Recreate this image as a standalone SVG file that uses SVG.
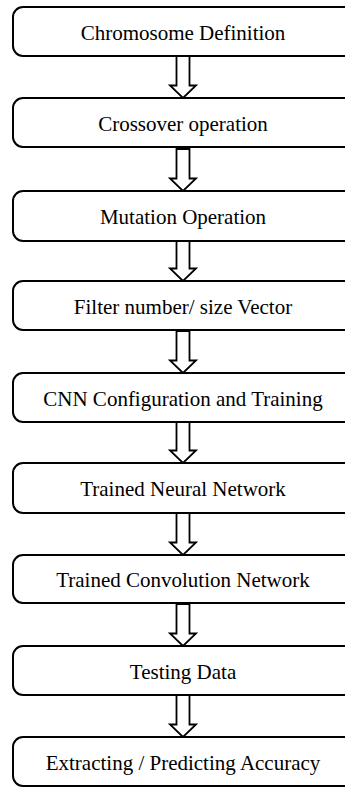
<svg xmlns="http://www.w3.org/2000/svg" width="345" height="787" viewBox="0 0 345 787">
  <style>
    .box { fill: #ffffff; stroke: #000000; stroke-width: 2; }
    .lbl { font-family: "Liberation Serif", "Times New Roman", serif; font-size: 21px; fill: #000000; text-anchor: middle; }
    .arr { fill: #ffffff; stroke: #000000; stroke-width: 1.8; stroke-linejoin: miter; }
  </style>
  <defs>
    <!-- hollow block arrow, tip at origin, pointing down -->
    <path id="blockArrow" d="M -6.5 -42 L 6.5 -42 L 6.5 -12.5 L 13 -12.5 L 0 0 L -13 -12.5 L -6.5 -12.5 Z"/>
  </defs>
  <rect width="345" height="787" fill="#ffffff"/>

  <g id="connectors">
    <use href="#blockArrow" class="arr" x="183" y="98"/>
    <use href="#blockArrow" class="arr" x="183" y="191"/>
    <use href="#blockArrow" class="arr" x="183" y="281"/>
    <use href="#blockArrow" class="arr" x="183" y="373"/>
    <use href="#blockArrow" class="arr" x="183" y="463"/>
    <use href="#blockArrow" class="arr" x="183" y="555"/>
    <use href="#blockArrow" class="arr" x="183" y="646"/>
    <use href="#blockArrow" class="arr" x="183" y="737"/>
  </g>

  <g id="chromosome-definition">
    <rect class="box" x="13" y="7" width="360" height="49" rx="10"/>
    <text class="lbl" x="183" y="40">Chromosome Definition</text>
  </g>
  <g id="crossover-operation">
    <rect class="box" x="13" y="98" width="360" height="49" rx="10"/>
    <text class="lbl" x="183" y="131">Crossover operation</text>
  </g>
  <g id="mutation-operation">
    <rect class="box" x="13" y="191" width="360" height="50" rx="10"/>
    <text class="lbl" x="183" y="224">Mutation Operation</text>
  </g>
  <g id="filter-vector">
    <rect class="box" x="13" y="281" width="360" height="49" rx="10"/>
    <text class="lbl" x="183" y="314">Filter number/ size Vector</text>
  </g>
  <g id="cnn-config">
    <rect class="box" x="13" y="373" width="360" height="49" rx="10"/>
    <text class="lbl" x="183" y="406">CNN Configuration and Training</text>
  </g>
  <g id="trained-nn">
    <rect class="box" x="13" y="463" width="360" height="50" rx="10"/>
    <text class="lbl" x="183" y="496">Trained Neural Network</text>
  </g>
  <g id="trained-conv">
    <rect class="box" x="13" y="555" width="360" height="48" rx="10"/>
    <text class="lbl" x="183" y="587">Trained Convolution Network</text>
  </g>
  <g id="testing-data">
    <rect class="box" x="13" y="646" width="360" height="49" rx="10"/>
    <text class="lbl" x="183" y="679">Testing Data</text>
  </g>
  <g id="accuracy">
    <rect class="box" x="13" y="737" width="360" height="49" rx="10"/>
    <text class="lbl" x="183" y="770">Extracting / Predicting Accuracy</text>
  </g>
</svg>
